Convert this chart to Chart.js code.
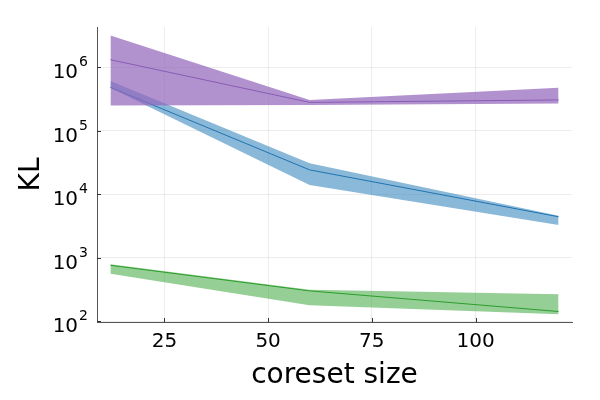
<!DOCTYPE html>
<html><head><meta charset="utf-8">
<script src="https://cdn.jsdelivr.net/npm/chart.js@4.4.0/dist/chart.umd.min.js"></script>
<style>html,body{margin:0;padding:0;background:#fff}#wrap{width:600px;height:400px}</style>
</head><body><div id="wrap"><canvas id="c" width="600" height="400"></canvas></div>
<script>
const coresetSizes = [12, 60, 120];
const purpleMean  = [1.32e6, 2.81e5, 3.07e5];
const purpleUpper = [3.19e6, 3.06e5, 4.78e5];
const purpleLower = [2.52e5, 2.55e5, 2.71e5];
const blueMean  = [4.84e5, 2.43e4, 4.44e3];
const blueUpper = [6.1e5, 3.09e4, 4.6e3];
const blueLower = [4.74e5, 1.41e4, 3.3e3];
const greenMean  = [764, 302, 143];
const greenUpper = [794, 316, 267];
const greenLower = [560, 179, 129];
const xTicks = [25, 50, 75, 100];
const yTicks = [1e2, 1e3, 1e4, 1e5, 1e6];

function pts(arr){ return coresetSizes.map((x,i)=>({x:x, y:arr[i]})); }

const FONT = 'DejaVu Sans';
const datasets = [];
function addSeries(mean, upper, lower, line, fill){
  const base = datasets.length;
  datasets.push({data:pts(lower), borderWidth:0, pointRadius:0, fill:false, borderColor:'transparent'});
  datasets.push({data:pts(upper), borderWidth:0, pointRadius:0, fill:base, backgroundColor:fill, borderColor:'transparent'});
  datasets.push({data:pts(mean), borderWidth:1, pointRadius:0, fill:false, borderColor:line});
}
addSeries(purpleMean, purpleUpper, purpleLower, '#6c3fa0', 'rgba(148,103,189,0.72)');
addSeries(blueMean, blueUpper, blueLower, '#1f6fb0', 'rgba(31,119,180,0.52)');
addSeries(greenMean, greenUpper, greenLower, '#2a9a2a', 'rgba(44,160,44,0.5)');

const decor = {
  id:'decor',
  afterDatasetsDraw(chart){
    const ctx = chart.ctx, a = chart.chartArea, xs = chart.scales.x, ys = chart.scales.y;
    ctx.save(); ctx.strokeStyle='#333'; ctx.lineWidth=1;
    xTicks.forEach(v=>{ const p=Math.round(xs.getPixelForValue(v))+0.5; ctx.beginPath(); ctx.moveTo(p,a.bottom); ctx.lineTo(p,a.bottom-4); ctx.stroke(); });
    yTicks.forEach(v=>{ const p=Math.round(ys.getPixelForValue(v))+0.5; ctx.beginPath(); ctx.moveTo(a.left,p); ctx.lineTo(a.left+4,p); ctx.stroke(); });
    // y tick labels: "10" with superscript exponent
    ctx.fillStyle='#000'; ctx.textBaseline='alphabetic'; ctx.textAlign='left';
    yTicks.forEach(v=>{
      const p = ys.getPixelForValue(v);
      const e = String(Math.round(Math.log10(v)));
      ctx.font = '14px "'+FONT+'"';
      const ew = ctx.measureText(e).width;
      ctx.font = '20px "'+FONT+'"';
      const bw = ctx.measureText('10').width;
      const right = a.left - 9;
      const bx = right - ew - bw - 1;
      ctx.fillText('10', bx, p + 11);
      ctx.font = '14px "'+FONT+'"';
      ctx.fillText(e, bx + bw + 1, p - 1);
    });
    ctx.restore();
  }
};

new Chart(document.getElementById('c'), {
  type:'line',
  data:{datasets},
  options:{
    responsive:false, animation:false, devicePixelRatio:1,
    layout:{padding:{top:27, right:28, left:15, bottom:7}},
    plugins:{legend:{display:false}, tooltip:{enabled:false}},
    elements:{line:{tension:0}},
    scales:{
      x:{type:'linear', min:8.76, max:123.24,
        afterBuildTicks(s){ s.ticks = xTicks.map(v=>({value:v})); },
        afterFit(s){ s.height = 71; },
        grid:{color:'rgba(0,0,0,0.07)', drawTicks:false},
        border:{display:true, color:'#555', width:1},
        ticks:{font:{family:FONT, size:20}, color:'#000', padding:8, maxRotation:0},
        title:{display:true, text:'coreset size', font:{family:FONT, size:28}, color:'#000', padding:{top:2, bottom:0}}
      },
      y:{type:'logarithmic', min:Math.pow(10,1.99), max:Math.pow(10,6.636),
        afterBuildTicks(s){ s.ticks = yTicks.map(v=>({value:v})); },
        afterFit(s){ s.width = 82; },
        grid:{color:'rgba(0,0,0,0.07)', drawTicks:false},
        border:{display:true, color:'#555', width:1},
        ticks:{display:false},
        title:{display:true, text:'KL', font:{family:FONT, size:28}, color:'#000', padding:{bottom:4, top:0}}
      }
    }
  },
  plugins:[decor]
});
</script></body></html>
